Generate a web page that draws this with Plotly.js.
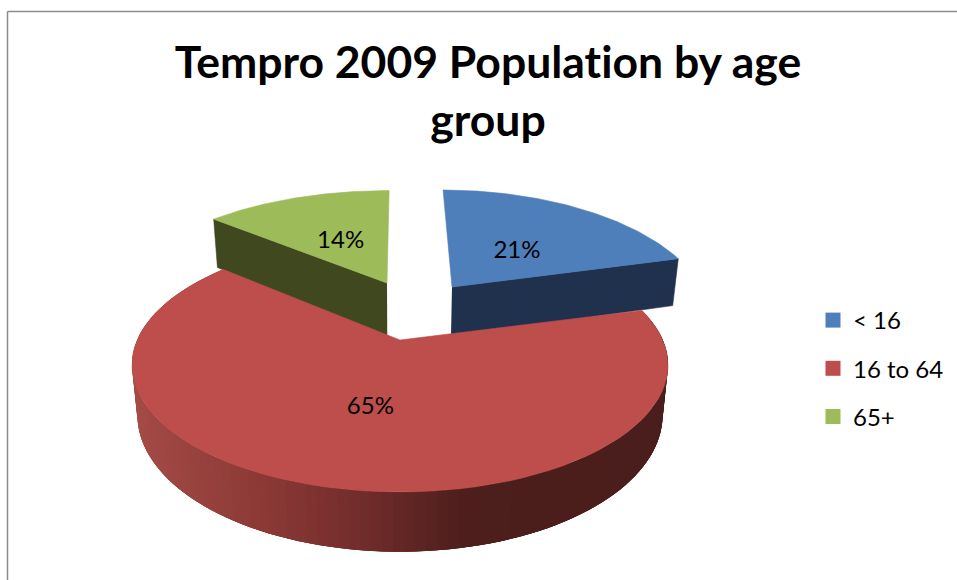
<!DOCTYPE html>
<html><head><meta charset="utf-8">
<script src="https://cdn.plot.ly/plotly-3.0.1.min.js"></script>
<style>html,body{margin:0;padding:0;background:#fff}#c{width:957px;height:580px}text{font-variant-ligatures:none !important;font-feature-settings:"liga" 0 !important}</style>
</head><body><div id="c"></div>
<script>
// Data
var categories = ['< 16', '16 to 64', '65+'];
var values = [20.9, 65.4, 13.7];
var titleText = 'Tempro 2009 Population by age<br>group';

// Style
var topColors = ['#4f7fbb', '#bd4e4c', '#9dbb59'];
var wallColors = ['#1f314d', null, '#40481f'];
var FONT = 'Lato, Carlito, "Noto Sans", sans-serif';
var redRamp = [[132,[166,76,72]],[300,[138,56,53]],[400,[112,44,43]],[500,[76,30,28]],[667,[74,30,28]]];

// Projection of the 3D pie disc on to the page
var CX = 400, CY = 340, A = 262.7, B = 122, K = 0.197;
var offU = [0.2165, 0, -0.0545], offV = [-0.475, 0, -0.514];
var scaleU = [1.037, 1, 1.09], scaleV = [1.147, 1, 1.1];
var depth = [54, 48, 60], BOTTOM_SHRINK = 0.98;
function proj(u, v, d) {
  var w = 1 - K * v, x = A * u / w, y = B * v / w;
  if (d) { x *= BOTTOM_SHRINK; y += d / w; }
  return [CX + x, CY + y];
}
function slicePoint(i, ang, r, d) {
  return proj(offU[i] + r * scaleU[i] * Math.sin(ang), offV[i] - r * scaleV[i] * Math.cos(ang), d ? depth[i] : 0);
}
var total = values.reduce(function (a, b) { return a + b; }, 0);
var spans = [], acc = 0;
values.forEach(function (v) { var a = acc / total * 2 * Math.PI; acc += v; spans.push([a, acc / total * 2 * Math.PI]); });

function poly(pts, color, noLine) {
  return { type: 'scatter', mode: 'lines', x: pts.map(function (p) { return p[0]; }), y: pts.map(function (p) { return p[1]; }),
    fill: 'toself', fillcolor: color, line: { color: color, width: noLine ? 0 : 0.6 }, showlegend: false, hoverinfo: 'skip' };
}
function topFace(i) {
  var pts = [slicePoint(i, 0, 0, false)], n = 80;
  for (var s = 0; s <= n; s++) pts.push(slicePoint(i, spans[i][0] + (spans[i][1] - spans[i][0]) * s / n, 1, false));
  pts.push(pts[0]);
  return poly(pts, topColors[i]);
}
function radialWall(i, ang) {
  return poly([slicePoint(i, 0, 0, false), slicePoint(i, ang, 1, false), slicePoint(i, ang, 1, true), slicePoint(i, 0, 0, true)], wallColors[i]);
}
function rampColor(x) {
  for (var j = 0; j < redRamp.length - 1; j++) {
    if (x <= redRamp[j + 1][0]) {
      var t = Math.max(0, (x - redRamp[j][0]) / (redRamp[j + 1][0] - redRamp[j][0]));
      var c = redRamp[j][1].map(function (a, q) { return Math.round(a + (redRamp[j + 1][1][q] - a) * t); });
      return 'rgb(' + c.join(',') + ')';
    }
  }
  return 'rgb(' + redRamp[redRamp.length - 1][1].join(',') + ')';
}
var traces = [];
// back slices
traces.push(radialWall(0, spans[0][1]));
traces.push(radialWall(2, spans[2][0]));
traces.push(topFace(0));
traces.push(topFace(2));
// red outer wall: overlapping strips, each painted over the last, so no seams show
var STRIPS = 120, wallStep = (spans[1][1] - spans[1][0]) / STRIPS;
for (var s = STRIPS - 1; s >= 0; s--) {
  var a0 = spans[1][0] + wallStep * s;
  var pts = [];
  var end = Math.min(a0 + wallStep * 4, spans[1][1]);
  for (var q = 0; q <= 4; q++) pts.push(slicePoint(1, a0 + (end - a0) * q / 4, 1, false));
  for (q = 4; q >= 0; q--) pts.push(slicePoint(1, a0 + (end - a0) * q / 4, 1, true));
  traces.push(poly(pts, rampColor(slicePoint(1, a0 + wallStep / 2, 1, false)[0]), true));
}
traces.push(topFace(1));

// Percent labels
var labelR = [0.456, 0.5, 0.474], labelNudgeX = [4, 3, 0], labelNudgeY = [4, 2, 3];
var lx = [], ly = [], lt = [];
values.forEach(function (v, i) {
  var mid = (spans[i][0] + spans[i][1]) / 2, pt = slicePoint(i, mid, labelR[i], false);
  lx.push(pt[0] + labelNudgeX[i]); ly.push(pt[1] + labelNudgeY[i]); lt.push(Math.round(v / total * 100) + '%');
});
traces.push({ type: 'scatter', mode: 'text', x: lx, y: ly, text: lt, textposition: 'middle center',
  textfont: { family: FONT, size: 24, color: '#000' }, showlegend: false, hoverinfo: 'skip' });

// Legend entries
categories.forEach(function (c, i) {
  traces.push({ type: 'scatter', mode: 'markers', x: [null], y: [null], name: c, legendgroup: 'g' + i,
    marker: { symbol: 'square', size: 15, color: topColors[i] }, hoverinfo: 'skip' });
});

var layout = {
  width: 957, height: 580, margin: { l: 0, r: 0, t: 0, b: 0 }, paper_bgcolor: '#fff', plot_bgcolor: '#fff',
  title: { text: titleText, x: 488 / 957, xanchor: 'center', y: 1 - 78 / 580, yanchor: 'top', font: { family: FONT, size: 44.5, color: '#000', weight: 700 } },
  xaxis: { range: [0, 957], visible: false, fixedrange: true },
  yaxis: { range: [580, 0], visible: false, fixedrange: true },
  legend: { x: 813 / 957, y: 1 - 298 / 580, xanchor: 'left', yanchor: 'top', bgcolor: 'rgba(0,0,0,0)', traceorder: 'grouped', tracegroupgap: 14,
    itemwidth: 30, font: { family: FONT, size: 24, color: '#000' } },
  shapes: [
    { type: 'line', xref: 'x', yref: 'y', x0: 7.5, x1: 7.5, y0: 11.5, y1: 580, line: { color: '#8c8c8c', width: 1.5 } },
    { type: 'line', xref: 'x', yref: 'y', x0: 7.5, x1: 957, y0: 11.5, y1: 11.5, line: { color: '#8c8c8c', width: 1.5 } }
  ]
};
Plotly.newPlot('c', traces, layout, { displayModeBar: false, staticPlot: true });
</script></body></html>
